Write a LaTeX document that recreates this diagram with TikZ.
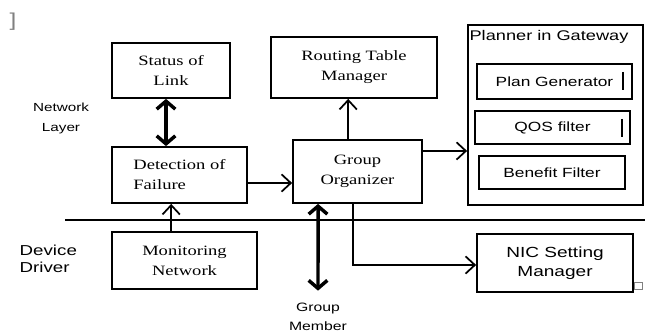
\documentclass[tikz,border=0pt]{standalone}
\usepackage{fontspec}
\setmainfont{Liberation Serif}[FakeStretch=1.3]
\setsansfont{Liberation Sans}[FakeStretch=1.3]
\usetikzlibrary{arrows.meta}

\begin{document}
\begin{tikzpicture}[x=0.75pt,y=-0.75pt,
  box/.style={draw,line width=1.3pt,align=center,inner sep=0pt,font=\fontsize{10.7}{15}\selectfont},
  inbox/.style={draw,line width=1.3pt,inner sep=0pt,font=\sffamily\fontsize{10}{12}\selectfont},
  lbl/.style={align=center,font=\sffamily\fontsize{9}{14}\selectfont},
  arr/.style={line width=1.3pt,-{Straight Barb[length=7pt,width=13pt]}},
  dbl/.style={line width=2.6pt,{Straight Barb[length=6pt,width=14pt]}-{Straight Barb[length=6pt,width=14pt]}}]
  \useasboundingbox (0,0) rectangle (645,334);
  % network layer
  \node[box,minimum width=88.5pt,minimum height=41.25pt] (status) at (171,70.5) {Status of\\Link};
  \node[box,minimum width=124.5pt,minimum height=45.75pt] (routing) at (354,67.5) {Routing Table\\Manager};
  \node[box,minimum width=101.25pt,minimum height=42pt,align=left] (detect) at (179.5,175) {Detection of\\Failure};
  \node[box,minimum width=96.75pt,minimum height=47.25pt] (group) at (357.5,171.5) {Group\\Organizer};
  % planner
  \node[draw,line width=1.3pt,minimum width=131.25pt,minimum height=135pt] (planner) at (555.5,115) {};
  \node[lbl,font=\sffamily\fontsize{10.5}{12}\selectfont] (title) at (549,37) {Planner in Gateway};
  \node[inbox,minimum width=116.25pt,minimum height=26.25pt] (plan) at (554.5,81.5) {\raisebox{-2pt}{Plan Generator}};
  \node[inbox,minimum width=116.25pt,minimum height=24.75pt] (qos) at (552.5,127.5) {\raisebox{-4pt}{QOS filter}};
  \node[inbox,minimum width=109.5pt,minimum height=24.75pt] (benefit) at (552,172.5) {\raisebox{-5pt}{Benefit Filter}};
  \draw[line width=0.8pt] (623,72) -- (623,90);
  \draw[line width=0.8pt] (622,119) -- (622,137);
  % device driver
  \draw[line width=1.1pt] (65,220) -- (645,220);
  \node[box,minimum width=108.75pt,minimum height=42.75pt] (monitor) at (184.5,260.5) {Monitoring\\Network};
  \node[box,font=\sffamily\fontsize{11}{14}\selectfont,minimum width=117pt,minimum height=43.5pt] (nic) at (555,263) {NIC Setting\\Manager};
  \draw[gray,line width=0.6pt] (634,282) rectangle (642,289);
  % side labels
  \node[lbl,font=\sffamily\fontsize{8.8}{15}\selectfont] (netlayer) at (61,118) {Network\\Layer};
  \node[lbl,align=left,anchor=west,font=\sffamily\fontsize{10.8}{12.5}\selectfont] (driver) at (15,259) {Device\\Driver};
  \node[lbl,font=\sffamily\fontsize{9.1}{14}\selectfont] (member) at (318,317) {Group\\Member};
  \node[gray,font=\sffamily\fontsize{14}{14}\selectfont] (mark) at (13,22) {]};
  % connectors
  \draw[dbl] ([xshift=-3.75pt]status.south) -- ([xshift=-3.75pt]status.south |- detect.north);
  \draw[arr] ([xshift=-10pt]monitor.north) -- ([xshift=-10pt]monitor.north |- detect.south);
  \draw[arr] ([yshift=-6pt]detect.east) -- ([yshift=-6pt]detect.east -| group.west);
  \draw[arr] ([xshift=-7pt]group.north) -- ([xshift=-7pt]group.north |- routing.south);
  \draw[arr] ([yshift=15.4pt]group.east) -- ([yshift=15.4pt]group.east -| planner.west);
  \draw[dbl] ([xshift=-29.6pt]group.south) -- ([yshift=6pt]member.north);
  \draw[arr] ([xshift=-3.4pt]group.south) |- ([yshift=-1.5pt]nic.west);
\end{tikzpicture}
\end{document}
